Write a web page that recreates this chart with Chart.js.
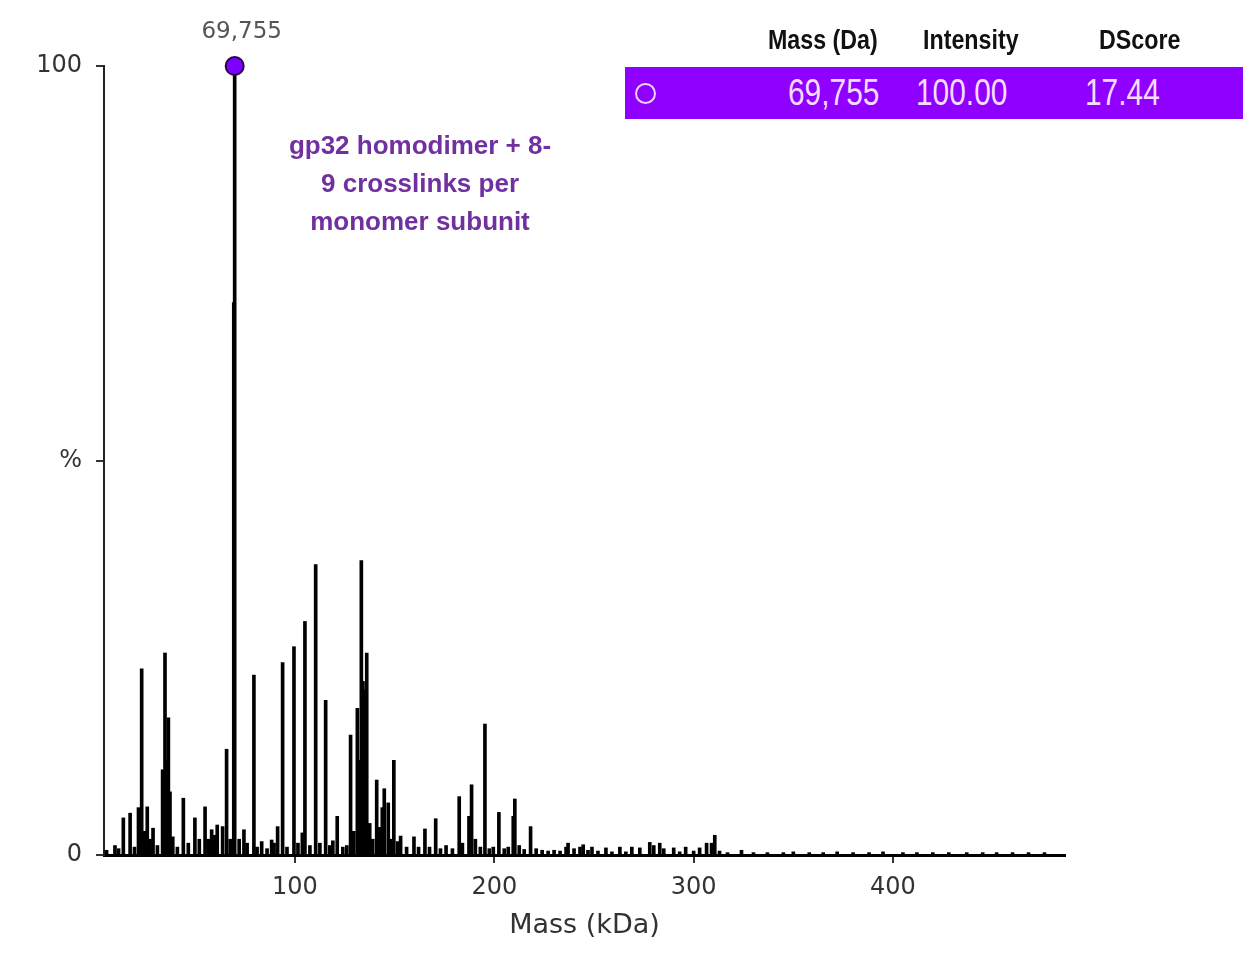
<!DOCTYPE html>
<html>
<head>
<meta charset="utf-8">
<script src="https://cdn.jsdelivr.net/npm/chart.js@4/dist/chart.umd.min.js"></script>
<style>
  body { margin: 0; background: #fff; }
  #wrap { position: relative; width: 1243px; height: 975px; overflow: hidden; }
  #spec { position: absolute; left: 0; top: 0; }
  .hdr { position: absolute; top: 22px; font-family: "Liberation Sans", sans-serif; font-weight: bold; font-size: 28px; line-height: 36px; color: #111; transform: scaleX(0.83); transform-origin: left center; }
  #row { position: absolute; left: 625px; top: 67px; width: 618px; height: 52px; background: #9000ff; }
  #ring { position: absolute; left: 635px; top: 83px; width: 21px; height: 21px; box-sizing: border-box; border: 2.5px solid #f4d2ff; border-radius: 50%; }
  .val { position: absolute; top: 73px; font-family: "Liberation Sans", sans-serif; font-size: 36px; line-height: 40px; color: #f6dcff; transform: scaleX(0.83); transform-origin: left center; }
  #note { position: absolute; left: 270px; top: 126px; width: 300px; text-align: center; font-family: "Liberation Sans", Arial, sans-serif; font-weight: bold; font-size: 26px; line-height: 38px; color: #7030a0; }
</style>
</head>
<body>
<div id="wrap">
  <canvas id="spec" width="1243" height="975"></canvas>
  <div class="hdr" style="left:768px">Mass (Da)</div>
  <div class="hdr" style="left:923px">Intensity</div>
  <div class="hdr" style="left:1099px">DScore</div>
  <div id="row"></div>
  <div id="ring"></div>
  <div class="val" style="left:788px">69,755</div>
  <div class="val" style="left:916px">100.00</div>
  <div class="val" style="left:1085px">17.44</div>
  <div id="note">gp32 homodimer + 8-<br>9 crosslinks per<br>monomer subunit</div>
</div>
<script>
// deconvolved peaks, mass in kDa and intensity in %
const peakMass = [
  5.5, 9.7, 11.5, 13.9, 17.3, 19.5, 21.5, 23.1, 24.5, 25.9, 27.3, 28.8, 31, 33.6, 34.8, 35.6, 36.5, 37.3, 38.7, 41,
  44, 46.5, 49.8, 52, 54.9, 56.5, 58.2, 59.5, 61, 63.7, 65.7, 67.5, 69.3, 72, 74.4, 76, 79.4, 81, 83.3, 86,
  88.3, 89.5, 91.3, 93.8, 96, 99.5, 101.5, 103.7, 105, 107.5, 110.4, 112.5, 115.4, 117.5, 119, 121.2, 124, 126, 127.9, 129.5,
  131.3, 132.3, 133.3, 134.1, 134.8, 136, 137.5, 139, 141, 142.5, 143.8, 144.8, 146.8, 148, 149.6, 151.5, 153, 156, 159.7, 162,
  165.2, 167.5, 170.6, 173, 175.8, 179, 182.4, 184, 187.3, 188.6, 190.5, 193, 195.3, 197.5, 199.5, 202.3, 205, 207, 209.5, 210.3,
  212.5, 215, 218.2, 221, 224, 227, 230, 233, 236, 237, 240, 243, 244.6, 247, 249, 252, 256, 259, 263, 266,
  269, 273, 278, 280, 283, 285, 290, 293, 296, 300, 303, 306.5, 309, 310.6, 313, 317, 324, 330, 337, 345,
  350, 358, 365, 372, 380, 388, 395, 405, 412, 420, 428, 437, 445, 452, 460, 468, 476
];
const peakIntensity = [
  0.6, 1.2, 0.8, 4.7, 5.3, 1.0, 6.0, 23.6, 3.0, 6.1, 2.0, 3.4, 1.2, 10.8, 25.6, 12, 17.4, 8, 2.3, 1.0,
  7.2, 1.5, 4.7, 2.0, 6.1, 2.0, 3.2, 2.5, 3.8, 3.6, 13.4, 2.0, 70, 2.0, 3.2, 1.5, 22.8, 1.0, 1.7, 0.8,
  1.9, 1.5, 3.6, 24.4, 1.0, 26.4, 1.5, 2.8, 29.6, 1.2, 36.8, 1.5, 19.6, 1.2, 1.8, 4.9, 1.0, 1.2, 15.2, 3,
  18.6, 12, 37.3, 22, 20.9, 25.6, 4, 2, 9.5, 3.5, 6, 8.4, 6.6, 2, 12, 1.7, 2.4, 1.0, 2.3, 1.0,
  3.3, 1.0, 4.6, 0.8, 1.2, 0.8, 7.4, 1.5, 4.9, 8.9, 2, 1, 16.6, 0.8, 1.0, 5.4, 0.8, 1, 4.9, 7.1,
  1.2, 0.7, 3.6, 0.8, 0.6, 0.5, 0.6, 0.5, 1.0, 1.5, 0.8, 1.0, 1.3, 0.6, 1.0, 0.5, 0.9, 0.4, 1.0, 0.4,
  1.0, 0.9, 1.6, 1.2, 1.5, 0.8, 0.9, 0.4, 1.0, 0.5, 0.9, 1.5, 1.5, 2.5, 0.5, 0.3, 0.6, 0.3, 0.3, 0.3,
  0.4, 0.3, 0.3, 0.4, 0.3, 0.3, 0.4, 0.3, 0.3, 0.3, 0.3, 0.3, 0.3, 0.3, 0.3, 0.3, 0.3
];
// the selected (top) peak
const topMass = [69.755];
const topIntensity = [100];
const topLabel = ['69,755'];

const xTicks = [100, 200, 300, 400];
const yTicks = [0, 50, 100];
const yTickText = ['0', '%', '100'];

const sticks = peakMass.map((m, i) => ({ x: m, y: peakIntensity[i] }));
sticks.push({ x: topMass[0], y: topIntensity[0] });
const tops = topMass.map((m, i) => ({ x: m, y: topIntensity[i] }));

// label above the selected peak
const peakLabel = {
  id: 'peakLabel',
  afterDatasetsDraw(chart) {
    const ctx = chart.ctx;
    const xs = chart.scales.x, ys = chart.scales.y;
    ctx.save();
    ctx.font = '23px "DejaVu Sans"';
    ctx.fillStyle = '#555';
    ctx.textAlign = 'center';
    ctx.textBaseline = 'middle';
    tops.forEach((p, i) => {
      ctx.fillText(topLabel[i], xs.getPixelForValue(p.x) + 7, ys.getPixelForValue(p.y) - 34);
    });
    ctx.restore();
  }
};

new Chart(document.getElementById('spec'), {
  type: 'bar',
  data: {
    datasets: [
      {
        type: 'scatter',
        data: tops,
        pointRadius: 9,
        pointBackgroundColor: '#7d00ff',
        pointBorderColor: '#2b0050',
        pointBorderWidth: 2,
        clip: false,
        order: 0
      },
      {
        data: sticks,
        backgroundColor: '#000',
        barThickness: 3,
        grouped: false,
        order: 1
      }
    ]
  },
  options: {
    responsive: false,
    animation: false,
    devicePixelRatio: 1,
    layout: { padding: { left: 0, top: 66, right: 178, bottom: 33 } },
    plugins: { legend: { display: false }, tooltip: { enabled: false } },
    scales: {
      x: {
        type: 'linear',
        offset: false,
        min: 4.2,
        max: 486.3,
        afterFit: s => { s.height = 87; },
        afterBuildTicks: s => { s.ticks = xTicks.map(v => ({ value: v })); },
        ticks: { font: { family: 'DejaVu Sans', size: 24 }, color: '#333', padding: 10, maxRotation: 0 },
        grid: { drawOnChartArea: false, tickLength: 8, color: '#333', lineWidth: 2, offset: false },
        border: { display: true, color: '#000', width: 3 },
        title: { display: true, text: 'Mass (kDa)', font: { family: 'DejaVu Sans', size: 27 }, color: '#333', padding: { top: 4, bottom: 0 } }
      },
      y: {
        min: 0,
        max: 100,
        afterFit: s => { s.width = 104; },
        afterBuildTicks: s => { s.ticks = yTicks.map(v => ({ value: v })); },
        ticks: {
          font: { family: 'DejaVu Sans', size: 24 },
          color: '#333',
          padding: 14,
          callback: v => yTickText[yTicks.indexOf(v)]
        },
        grid: { drawOnChartArea: false, tickLength: 8, color: '#333', lineWidth: 2 },
        border: { display: true, color: '#222', width: 2 }
      }
    }
  },
  plugins: [peakLabel]
});
</script>
</body>
</html>
